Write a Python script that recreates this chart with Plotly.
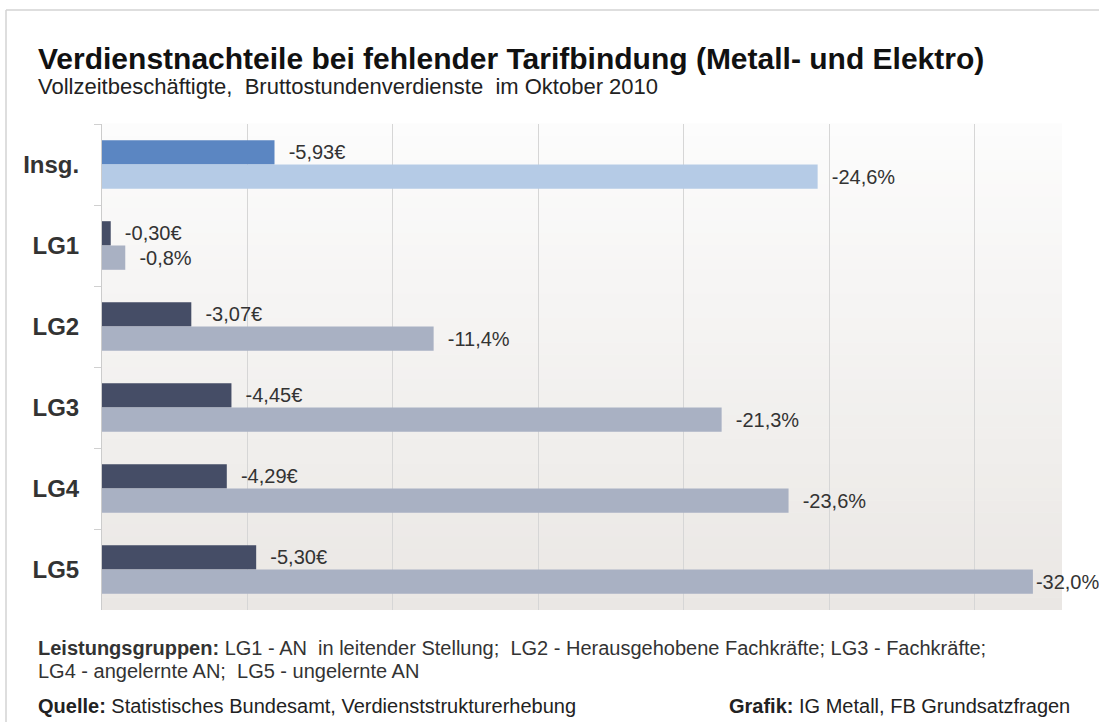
import plotly.graph_objects as go

categories = ["Insg.", "LG1", "LG2", "LG3", "LG4", "LG5"]
euro_values = [5.93, 0.30, 3.07, 4.45, 4.29, 5.30]
pct_values = [24.6, 0.8, 11.4, 21.3, 23.6, 32.0]
euro_labels = ["-5,93€", "-0,30€", "-3,07€", "-4,45€", "-4,29€", "-5,30€"]
pct_labels = ["-24,6%", "-0,8%", "-11,4%", "-21,3%", "-23,6%", "-32,0%"]

euro_colors = ["#5b86c2", "#454d66", "#454d66", "#454d66", "#454d66", "#454d66"]
pct_colors = ["#b5cbe6", "#a9b1c3", "#a9b1c3", "#a9b1c3", "#a9b1c3", "#a9b1c3"]

FONT = "Arial, 'Liberation Sans', sans-serif"
W, H = 1099, 722
ML, MR, MT, MB = 102, 37, 124, 112
PW, PH = W - ML - MR, H - MT - MB
X_MAX = 33


def px(x):
    return (x - ML) / PW


def py(y):
    return (H - MB - y) / PH


def pad(labels, values):
    # small gap between bar end and label; the longest bar has no room for it
    top = max(values)
    return [("" if v == top and v > 0.9 * X_MAX else "\u00a0\u00a0") + t
            for t, v in zip(labels, values)]


fig = go.Figure()
fig.add_trace(go.Bar(
    y=categories, x=euro_values, orientation="h",
    marker=dict(color=euro_colors, line=dict(width=0)),
    text=pad(euro_labels, euro_values), textposition="outside", constraintext="none",
    textfont=dict(family=FONT, size=20, color="#333333"),
    cliponaxis=False, showlegend=False, hoverinfo="skip",
))
fig.add_trace(go.Bar(
    y=categories, x=pct_values, orientation="h",
    marker=dict(color=pct_colors, line=dict(width=0)),
    text=pad(pct_labels, pct_values), textposition="outside", constraintext="none",
    textfont=dict(family=FONT, size=20, color="#333333"),
    cliponaxis=False, showlegend=False, hoverinfo="skip",
))

# vertical gradient background of plot area
shapes = []
N = 40
top = (252, 252, 252)
bot = (234, 231, 228)
for i in range(N):
    t = (i + 0.5) / N
    c = tuple(round(top[k] + (bot[k] - top[k]) * t) for k in range(3))
    shapes.append(dict(type="rect", xref="x domain", yref="y domain",
                       x0=0, x1=1, y0=1 - (i + 1) / N, y1=1 - i / N + 0.001,
                       fillcolor="rgb(%d,%d,%d)" % c, line=dict(width=0), layer="below"))
# outer frame (top and left edges)
shapes.append(dict(type="line", xref="paper", yref="paper",
                   x0=px(6), x1=px(1099), y0=py(10), y1=py(10),
                   line=dict(color="#d3d3d3", width=1.5), layer="below"))
shapes.append(dict(type="line", xref="paper", yref="paper",
                   x0=px(6), x1=px(6), y0=py(10), y1=py(722),
                   line=dict(color="#d3d3d3", width=1.5), layer="below"))

annotations = [
    dict(text="<b>Verdienstnachteile bei fehlender Tarifbindung (Metall- und Elektro)</b>",
         x=px(36), y=py(58), xref="paper", yref="paper", xanchor="left", yanchor="middle",
         showarrow=False, font=dict(family=FONT, size=30, color="#111111")),
    dict(text="Vollzeitbeschäftigte,  Bruttostundenverdienste  im Oktober 2010",
         x=px(36), y=py(86), xref="paper", yref="paper", xanchor="left", yanchor="middle",
         showarrow=False, font=dict(family=FONT, size=22, color="#222222")),
    dict(text="<b>Leistungsgruppen:</b> LG1 - AN  in leitender Stellung;  LG2 - Herausgehobene Fachkräfte; LG3 - Fachkräfte;",
         x=px(36), y=py(648), xref="paper", yref="paper", xanchor="left", yanchor="middle",
         showarrow=False, font=dict(family=FONT, size=20, color="#333333")),
    dict(text="LG4 - angelernte AN;  LG5 - ungelernte AN",
         x=px(36), y=py(671), xref="paper", yref="paper", xanchor="left", yanchor="middle",
         showarrow=False, font=dict(family=FONT, size=20, color="#333333")),
    dict(text="<b>Quelle:</b> Statistisches Bundesamt, Verdienststrukturerhebung",
         x=px(36), y=py(706), xref="paper", yref="paper", xanchor="left", yanchor="middle",
         showarrow=False, font=dict(family=FONT, size=20, color="#222222")),
    dict(text="<b>Grafik:</b> IG Metall, FB Grundsatzfragen",
         x=px(1072), y=py(706), xref="paper", yref="paper", xanchor="right", yanchor="middle",
         showarrow=False, font=dict(family=FONT, size=20, color="#222222")),
]

fig.update_layout(
    width=W, height=H,
    margin=dict(l=ML, r=MR, t=MT, b=MB),
    paper_bgcolor="white", plot_bgcolor="rgba(0,0,0,0)",
    barmode="group", bargap=0.4, bargroupgap=0,
    shapes=shapes, annotations=annotations,
    font=dict(family=FONT, color="#333333"),
    xaxis=dict(range=[0, X_MAX], dtick=5, tick0=0, showticklabels=False,
               showgrid=True, gridcolor="#d6d6d6", gridwidth=1,
               zeroline=False, showline=False, fixedrange=True),
    yaxis=dict(type="category", categoryorder="array", categoryarray=categories,
               autorange="reversed", showgrid=False, zeroline=False,
               showline=True, linecolor="#cccccc", linewidth=1,
               ticks="outside", tickson="boundaries", ticklen=7, tickcolor="#d0d0d0",
               ticklabelstandoff=17, tickprefix="<b>", ticksuffix="</b>",
               tickfont=dict(family=FONT, size=24, color="#333333"), fixedrange=True),
)

fig.write_html("out.html")
